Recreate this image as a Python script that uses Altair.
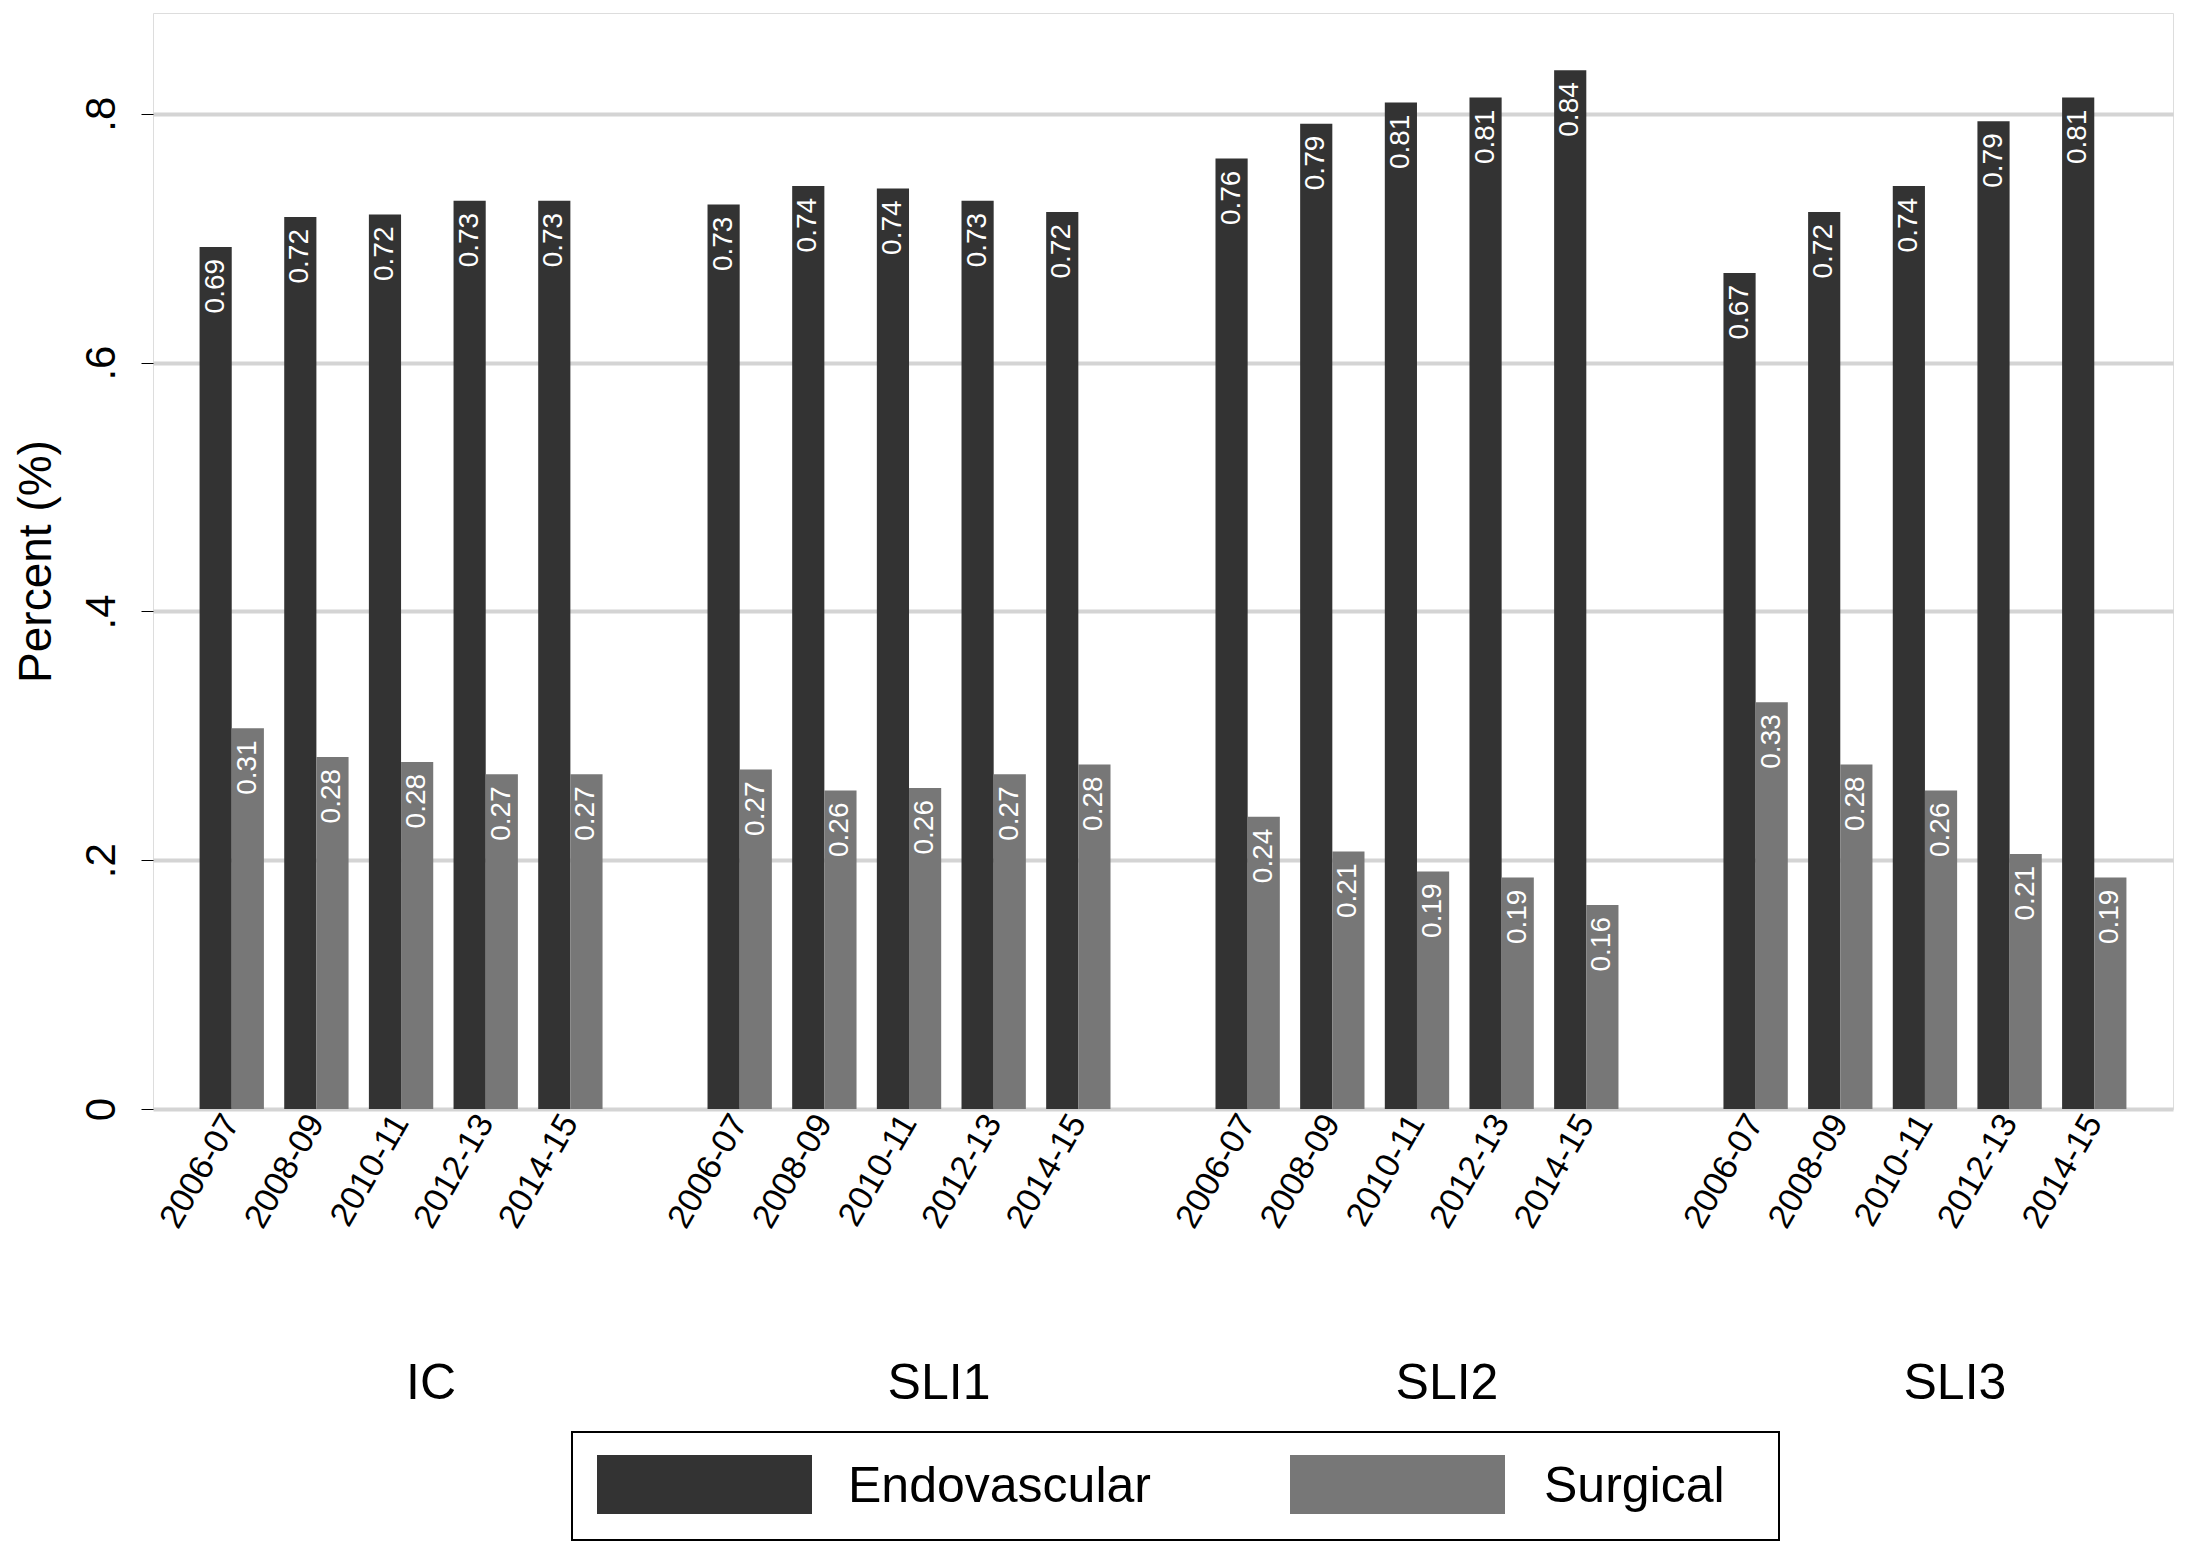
import altair as alt
import pandas as pd

groups = ["IC", "SLI1", "SLI2", "SLI3"]
periods = ["2006-07", "2008-09", "2010-11", "2012-13", "2014-15"]
series = ["Endovascular", "Surgical"]
series_colors = ["#333333", "#777777"]
endovascular = [
    [0.693, 0.717, 0.719, 0.730, 0.730],
    [0.727, 0.742, 0.740, 0.730, 0.721],
    [0.764, 0.792, 0.809, 0.813, 0.835],
    [0.672, 0.721, 0.742, 0.794, 0.813],
]
endo_labels = [
    ["0.69", "0.72", "0.72", "0.73", "0.73"],
    ["0.73", "0.74", "0.74", "0.73", "0.72"],
    ["0.76", "0.79", "0.81", "0.81", "0.84"],
    ["0.67", "0.72", "0.74", "0.79", "0.81"],
]
surgical = [
    [0.306, 0.283, 0.279, 0.269, 0.269],
    [0.273, 0.256, 0.258, 0.269, 0.277],
    [0.235, 0.207, 0.191, 0.186, 0.164],
    [0.327, 0.277, 0.256, 0.205, 0.186],
]
surg_labels = [
    ["0.31", "0.28", "0.28", "0.27", "0.27"],
    ["0.27", "0.26", "0.26", "0.27", "0.28"],
    ["0.24", "0.21", "0.19", "0.19", "0.16"],
    ["0.33", "0.28", "0.26", "0.21", "0.19"],
]

rows = []
slots = []
for gi, g in enumerate(groups):
    if gi > 0:
        slots.append(f"gap{gi}")
    for pi, p in enumerate(periods):
        slot = f"{g}|{p}"
        slots.append(slot)
        rows.append({"slot": slot, "series": "Endovascular", "value": endovascular[gi][pi],
                     "label": endo_labels[gi][pi]})
        rows.append({"slot": slot, "series": "Surgical", "value": surgical[gi][pi],
                     "label": surg_labels[gi][pi]})
df = pd.DataFrame(rows)
grp_df = pd.DataFrame({"slot": [f"{g}|2010-11" for g in groups], "name": groups})

W, H = 2020, 1096
x = alt.X(
    "slot:N", sort=slots, scale=alt.Scale(domain=slots, paddingInner=0.24, paddingOuter=0.55),
    title=None,
    axis=alt.Axis(labelExpr="indexof(datum.value,'|')>0 ? split(datum.value,'|')[1] : ''",
                  labelAngle=-60, labelFontSize=34, labelColor="black", ticks=False,
                  domain=False, labelPadding=8, labelFont="Liberation Sans"),
)
color = alt.Color("series:N", scale=alt.Scale(domain=series, range=series_colors), legend=None)
y = alt.Y("value:Q", scale=alt.Scale(domain=[0, 0.881], nice=False), title="Percent (%)",
          axis=alt.Axis(values=[0, 0.2, 0.4, 0.6, 0.8],
                        labelExpr="datum.value==0 ? '0' : replace(format(datum.value,'.1f'),'0.','.')",
                        labelAngle=-90, labelFontSize=42, labelColor="black", labelAlign="center",
                        labelBaseline="bottom", labelPadding=18, tickSize=12, tickColor="black",
                        titleFontSize=46, titleFontWeight="normal", titleColor="black",
                        titlePadding=20, gridColor="#d4d4d4", gridWidth=4, domain=False,
                        labelFont="Liberation Sans", titleFont="Liberation Sans"))

base = alt.Chart(df).encode(x=x, xOffset=alt.XOffset("series:N", sort=series,
                                                     scale=alt.Scale(paddingInner=0)))
bars = base.mark_bar().encode(y=y, color=color)
labels = base.mark_text(angle=270, align="right", baseline="middle", dx=-12, color="white",
                        fontSize=28, font="Liberation Sans").encode(y="value:Q", text="label:N")
grp = alt.Chart(grp_df).mark_text(fontSize=50, font="Liberation Sans", color="black", xOffset=30).encode(
    x=alt.X("slot:N", sort=slots), y=alt.value(H + 275), text="name:N")

# hand-built legend box below the group labels
one = pd.DataFrame({"k": [0]})
legend_box = alt.Chart(one).mark_rect(fill="white", stroke="black", strokeWidth=2).encode(
    x=alt.value(419), x2=alt.value(1626), y=alt.value(1419), y2=alt.value(1527))
legend_parts = [legend_box]
for name, col, x0, tx in zip(series, series_colors, [444, 1137], [695, 1391]):
    legend_parts.append(alt.Chart(one).mark_rect(fill=col).encode(
        x=alt.value(x0), x2=alt.value(x0 + 215), y=alt.value(1442), y2=alt.value(1501)))
    legend_parts.append(alt.Chart(one).mark_text(
        text=name, align="left", baseline="middle", fontSize=50, font="Liberation Sans",
        color="black").encode(x=alt.value(tx), y=alt.value(1474)))

chart = (
    alt.layer(bars, labels, grp, *legend_parts)
    .properties(width=W, height=H)
    .configure_view(stroke="black", strokeWidth=2)
    .configure(background="white")
)
chart.save("out.html", embed_options={"renderer": "svg", "actions": False})
